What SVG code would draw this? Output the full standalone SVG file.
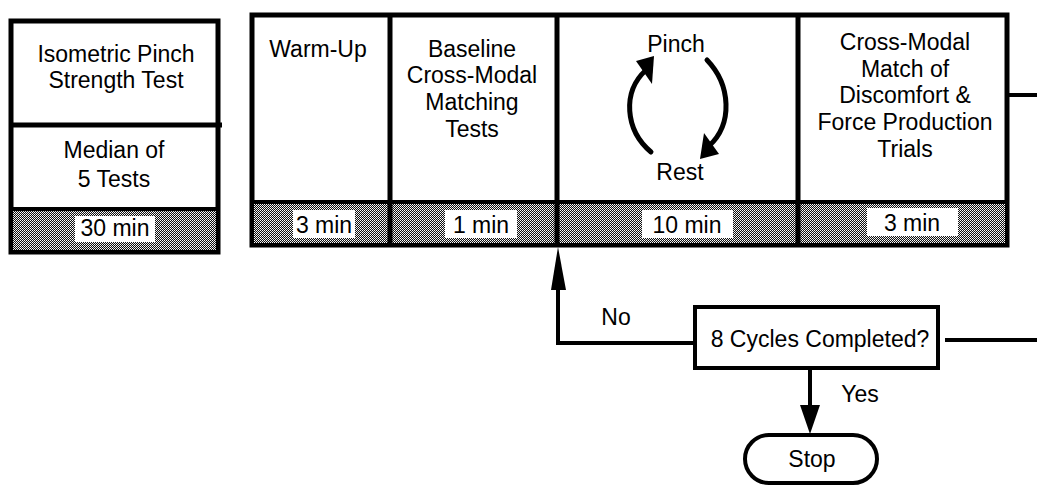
<svg xmlns="http://www.w3.org/2000/svg" width="1037" height="487" viewBox="0 0 1037 487">
<defs>
<pattern id="dots" width="2" height="2" patternUnits="userSpaceOnUse">
<rect width="2" height="2" fill="#111"/>
<rect x="0" y="0" width="1" height="1" fill="#fff"/>
<rect x="1" y="1" width="1" height="1" fill="#ddd"/>
</pattern>
<style>
.box{fill:#fff;stroke:#000;stroke-width:5}
.div{stroke:#000;stroke-width:5;fill:none}
.bar{fill:url(#dots);stroke:#000;stroke-width:4}
.lab{fill:#fff}
text{font-family:"Liberation Sans",Arial,Helvetica,sans-serif;font-size:23px;fill:#000;text-anchor:middle}
.ln{stroke:#000;stroke-width:4;fill:none}
.arc{stroke:#000;stroke-width:5;fill:none;stroke-linecap:round}
.head{fill:#000}
</style>
</defs>
<rect width="1037" height="487" fill="#fff"/>

<g id="strength-test">
<rect class="box" x="11" y="21" width="207" height="231"/>
<line class="div" x1="11" y1="125" x2="222" y2="125"/>
<rect class="bar" x="11" y="209" width="207" height="43"/>
<rect class="lab" x="75" y="216" width="80" height="26"/>
<text x="116" y="62">Isometric Pinch</text>
<text x="116" y="88">Strength Test</text>
<text x="114" y="158">Median of</text>
<text x="114" y="187">5 Tests</text>
<text x="115" y="236">30 min</text>
</g>

<g id="session">
<rect class="box" x="252" y="15" width="755" height="230"/>
<rect class="bar" x="252" y="202" width="755" height="43"/>
<line class="div" x1="390" y1="15" x2="390" y2="245"/>
<line class="div" x1="557" y1="15" x2="557" y2="245"/>
<line class="div" x1="798" y1="15" x2="798" y2="245"/>
</g>

<g id="warm-up">
<text x="318" y="57">Warm-Up</text>
<rect class="lab" x="293" y="210" width="62" height="28"/>
<text x="324" y="233">3 min</text>
</g>

<g id="baseline">
<text x="472" y="57">Baseline</text>
<text x="472" y="83">Cross-Modal</text>
<text x="472" y="110">Matching</text>
<text x="472" y="137">Tests</text>
<rect class="lab" x="445" y="210" width="72" height="28"/>
<text x="481" y="233">1 min</text>
</g>

<g id="pinch-rest">
<text x="676" y="52">Pinch</text>
<text x="680" y="180">Rest</text>
<path class="arc" d="M651 152 C625 130 622 92 646 70"/>
<polygon class="head" points="636,61 654,56 652,84"/>
<path class="arc" d="M707 60 C731 85 733 124 709 146"/>
<polygon class="head" points="700,159 719,154 704,133"/>
<rect class="lab" x="642" y="210" width="91" height="28"/>
<text x="687" y="233">10 min</text>
</g>

<g id="cross-modal">
<text x="905" y="50">Cross-Modal</text>
<text x="905" y="77">Match of</text>
<text x="905" y="103">Discomfort &amp;</text>
<text x="905" y="130">Force Production</text>
<text x="905" y="157">Trials</text>
<rect class="lab" x="867" y="208" width="91" height="28"/>
<text x="912" y="231">3 min</text>
</g>

<g id="decision">
<rect class="box" x="695" y="307" width="243" height="61" style="stroke-width:4"/>
<text x="820" y="347">8 Cycles Completed?</text>
</g>

<g id="stop">
<rect class="box" x="745" y="435" width="132" height="48" rx="24" style="stroke-width:4"/>
<text x="812" y="467">Stop</text>
</g>

<g id="connectors">
<path class="ln" d="M1007 95 H1037"/>
<path class="ln" d="M945 340 H1037"/>
<path class="ln" d="M695 343 H558 V287"/>
<polygon class="head" points="558,247 551,290 566,290"/>
<text x="616" y="325">No</text>
<path class="ln" d="M810 368 V408"/>
<polygon class="head" points="810,434 800,405 820,405"/>
<text x="860" y="402">Yes</text>
</g>
</svg>
